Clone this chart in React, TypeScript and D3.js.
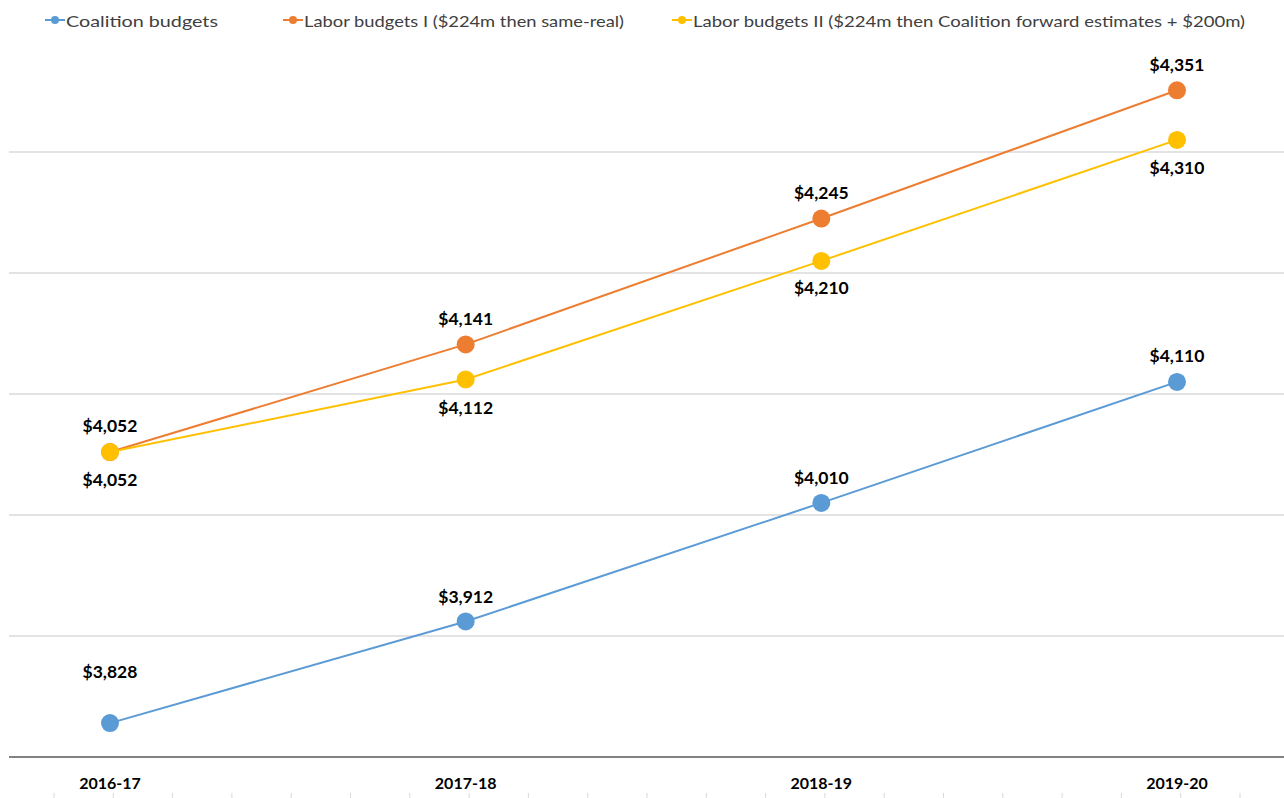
import React from "react";
import * as d3 from "d3";

const categories = ["2016-17", "2017-18", "2018-19", "2019-20"];
const coalition = [3828, 3912, 4010, 4110];
const laborI = [4052, 4141, 4245, 4351];
const laborII = [4052, 4112, 4210, 4310];
const seriesNames = [
  "Coalition budgets",
  "Labor budgets I ($224m then same-real)",
  "Labor budgets II ($224m then Coalition forward estimates + $200m)",
];
const yTicks = [3800, 3900, 4000, 4100, 4200, 4300];

const W = 1284;
const H = 798;
const FONT = "Lato, 'Open Sans', sans-serif";

export default function App() {
  const x = d3.scalePoint<string>().domain(categories).range([110, 1177]);
  const y = d3.scaleLinear().domain([3800, 4400]).range([757, 31]);

  const series = [
    { name: seriesNames[0], values: coalition, color: "#5B9BD5", labelDy: [-52, -25, -25, -26], legendX: 45, legendW: 152 },
    { name: seriesNames[1], values: laborI, color: "#ED7D31", labelDy: [-27, -26, -26, -26], legendX: 283, legendW: 320 },
    { name: seriesNames[2], values: laborII, color: "#FFC000", labelDy: [27, 28, 27, 28], legendX: 672, legendW: 552 },
  ];

  const line = d3
    .line<number>()
    .x((_, i) => x(categories[i]) as number)
    .y((d) => y(d));

  const fmt = (v: number) => "$" + d3.format(",")(v);

  const bottomTicks = d3.range(0, 21).map((i) => 54 + i * 59.3).filter((v) => v < W);

  return (
    <svg
      width={W}
      height={H}
      style={{ position: "absolute", left: 0, top: 0, background: "#fff" }}
      fontFamily={FONT}
    >
      <rect x={0} y={0} width={W} height={H} fill="#fff" />
      {yTicks.map((t) => (
        <line
          key={t}
          x1={9}
          x2={W}
          y1={y(t)}
          y2={y(t)}
          stroke={t === 3800 ? "#595959" : "#c8c8c8"}
          strokeWidth={t === 3800 ? 1.5 : 1.2}
        />
      ))}
      {bottomTicks.map((bx, i) => (
        <line key={i} x1={bx} x2={bx} y1={793} y2={798} stroke="#d9d9d9" strokeWidth={1} />
      ))}
      {categories.map((c) => (
        <text
          key={c}
          x={x(c)}
          y={782}
          textAnchor="middle"
          dominantBaseline="central"
          fontWeight="bold"
          fontSize={16}
          fill="#000"
        >
          {c}
        </text>
      ))}
      {series.map((s) => (
        <g key={s.name}>
          <path d={line(s.values) || ""} fill="none" stroke={s.color} strokeWidth={2} />
          {s.values.map((v, i) => (
            <circle key={i} cx={x(categories[i])} cy={y(v)} r={9} fill={s.color} />
          ))}
          {s.values.map((v, i) => (
            <text
              key={"l" + i}
              x={x(categories[i])}
              y={y(v) + s.labelDy[i]}
              textAnchor="middle"
              dominantBaseline="central"
              fontWeight="bold"
              fontSize={17.5}
              fill="#000"
            >
              {fmt(v)}
            </text>
          ))}
        </g>
      ))}
      {series.map((s) => (
        <g key={"lg" + s.name}>
          <line x1={s.legendX} x2={s.legendX + 20} y1={20} y2={20} stroke={s.color} strokeWidth={2} />
          <circle cx={s.legendX + 10} cy={20} r={4} fill={s.color} />
          <text
            x={s.legendX + 21}
            y={20}
            dominantBaseline="central"
            fontSize={16}
            fill="#404040"
            textLength={s.legendW}
            lengthAdjust="spacingAndGlyphs"
          >
            {s.name}
          </text>
        </g>
      ))}
    </svg>
  );
}
